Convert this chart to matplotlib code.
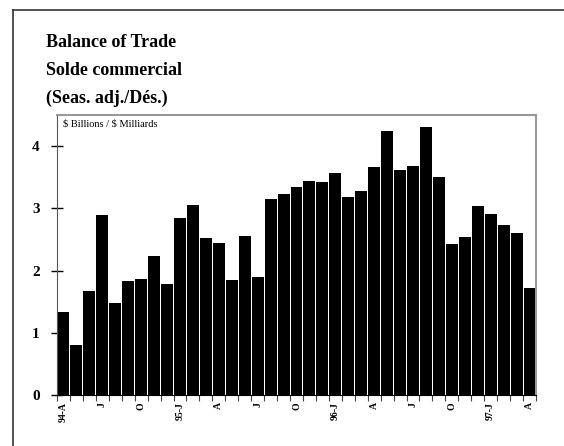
import numpy as np
import matplotlib.pyplot as plt
from matplotlib.lines import Line2D

# monthly balance of trade, April 1994 - April 1997 ($ billions)
months = ['A', 'M', 'J', 'J', 'A', 'S', 'O', 'N', 'D',
          'J', 'F', 'M', 'A', 'M', 'J', 'J', 'A', 'S', 'O', 'N', 'D',
          'J', 'F', 'M', 'A', 'M', 'J', 'J', 'A', 'S', 'O', 'N', 'D',
          'J', 'F', 'M', 'A']
values = [1.33, 0.81, 1.67, 2.89, 1.48, 1.83, 1.87, 2.24, 1.78,
          2.84, 3.06, 2.52, 2.45, 1.85, 2.56, 1.90, 3.15, 3.23, 3.35, 3.44, 3.43,
          3.57, 3.18, 3.28, 3.67, 4.24, 3.62, 3.68, 4.31, 3.50, 2.42, 2.54, 3.04,
          2.91, 2.73, 2.61, 1.72]
tick_labels = ['94-A', 'J', 'O', '95-J', 'A', 'J', 'O', '96-J', 'A', 'J', 'O', '97-J', 'A']
title_lines = ['Balance of Trade', 'Solde commercial', '(Seas. adj./Dés.)']

plt.rcParams['font.family'] = ['Liberation Serif', 'DejaVu Serif']

fig = plt.figure(figsize=(5.64, 4.46), dpi=100)

# outer frame (top and left edges only)
fig.add_artist(Line2D([13/564, 1], [1 - 10/446, 1 - 10/446], color='#333333', lw=1.2,
                      transform=fig.transFigure))
fig.add_artist(Line2D([13/564, 13/564], [0, 1 - 10/446], color='#333333', lw=1.2,
                      transform=fig.transFigure))

for i, line in enumerate(title_lines):
    fig.text(46/564, 1 - (34 + 28*i)/446, line, fontsize=13, fontweight='bold',
             va='top', ha='left')

ax = fig.add_axes([57/564, 51/446, 479/564, 280/446])
x = np.arange(len(values))
ax.bar(x, values, width=0.92, color='black')

ax.set_xlim(-0.5, len(values) - 0.5)
ax.set_ylim(0, 4.5)

ax.set_yticks([0, 1, 2, 3, 4])
ax.set_yticklabels(['0', '1', '2', '3', '4'], fontweight='bold', fontsize=11)
ax.tick_params(axis='y', direction='inout', length=9, width=1, pad=8)

ax.set_xticks(x[::3])
ax.set_xticklabels(tick_labels, rotation=90, fontweight='bold', fontsize=7)
ax.set_xticks(np.arange(len(values) + 1) - 0.5, minor=True)
ax.tick_params(axis='x', which='major', length=0, pad=5)
ax.tick_params(axis='x', which='minor', direction='out', length=4, width=0.8, color='#444444')

for side in ['top', 'right']:
    ax.spines[side].set_color('#999999')
    ax.spines[side].set_linewidth(1.5)
ax.spines['left'].set_color('#555555')
ax.spines['bottom'].set_color('black')

ax.text(0.012, 0.985, r'\$ Billions / \$ Milliards', transform=ax.transAxes,
        fontsize=7.5, va='top', ha='left')

plt.savefig('out.png', dpi=100)
